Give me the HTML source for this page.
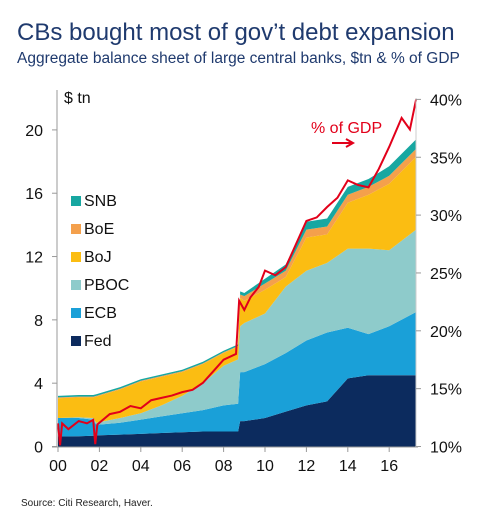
<!DOCTYPE html>
<html><head><meta charset="utf-8"><style>
body{margin:0;background:#fff;width:500px;height:524px;overflow:hidden;font-family:"Liberation Sans",Arial,sans-serif}
</style></head><body>
<svg width="500" height="524">
<text x="17" y="40" font-size="24" fill="#1f3a6e">CBs bought most of gov’t debt expansion</text>
<text x="17" y="63" font-size="15.5" fill="#1f3a6e">Aggregate balance sheet of large central banks, $tn &amp; % of GDP</text>
<g id="areas"></g>
<g id="axes"></g>
<text x="64" y="103" font-size="16" fill="#111">$ tn</text>
<text x="311" y="133" font-size="16" fill="#e2001a">% of GDP</text>
<path d="M332 143 H352 M346 139 L353 143 L346 147" stroke="#e2001a" stroke-width="2" fill="none"/>
<g id="legend"></g>
<text x="21" y="506" font-size="10" fill="#222">Source: Citi Research, Haver.</text>
</svg>
<script>
const dates=[2000,2001,2001.7,2001.85,2003,2004,2005,2006,2007,2008,2008.7,2008.8,2009,2010,2011,2012,2013,2014,2015,2016,2017.3];
const fed=[0.63,0.65,0.68,0.7,0.75,0.8,0.85,0.9,0.95,0.95,0.95,1.6,1.6,1.8,2.2,2.6,2.85,4.3,4.5,4.5,4.5];
const ecb=[1.17,1.15,1.02,0.67,0.75,0.9,1.05,1.2,1.35,1.65,1.75,3.1,3.1,3.4,3.7,4.1,4.35,3.2,2.6,3.1,4.0];
const pboc=[0,0.05,0.1,0.13,0.3,0.4,0.7,1.1,1.7,2.5,2.8,2.9,3.1,3.2,4.2,4.4,4.4,5.0,5.4,4.8,5.2];
const boj=[1.25,1.25,1.3,1.65,1.8,2.0,1.8,1.5,1.2,0.8,0.8,1.8,1.4,1.5,0.6,2.1,1.8,2.9,3.4,4.2,4.6];
const boe=[0.05,0.05,0.05,0.05,0.05,0.05,0.05,0.05,0.05,0.05,0.05,0.2,0.3,0.4,0.4,0.5,0.5,0.5,0.5,0.5,0.5];
const snb=[0.1,0.1,0.1,0.1,0.1,0.1,0.1,0.1,0.1,0.1,0.1,0.2,0.2,0.3,0.4,0.5,0.5,0.5,0.5,0.6,0.6];
const gdpDates=[2000,2000.1,2000.2,2000.5,2001,2001.4,2001.7,2001.8,2001.9,2002.5,2003,2003.5,2004,2004.5,2005,2005.5,2006,2006.5,2007,2007.5,2008,2008.6,2008.75,2009,2009.3,2009.7,2010,2010.5,2011,2011.5,2012,2012.5,2013,2013.5,2014,2014.5,2015,2015.5,2016,2016.6,2017,2017.3];
const gdpPct=[12,10.1,12,11.5,12.2,12,12.3,10.2,11.9,12.8,13,13.5,13.3,14,14.2,14.4,14.7,14.9,15.5,16.5,17.5,18,22.6,21.8,22.9,23.8,25.2,24.8,25.5,27.5,29.5,29.8,30.7,31.5,33,32.6,32.4,34,35.9,38.4,37.4,40];
const leftTicks=[0,4,8,12,16,20];
const rightTicks=[10,15,20,25,30,35,40];
const xTicks=[2000,2002,2004,2006,2008,2010,2012,2014,2016];
const series=[["Fed",fed,"#0c2b5e"],["ECB",ecb,"#1aa0d8"],["PBOC",pboc,"#8ecbcb"],["BoJ",boj,"#fbbd12"],["BoE",boe,"#f4a04c"],["SNB",snb,"#17a7a1"]];
const NS="http://www.w3.org/2000/svg";
const X=d=>58+(d-2000)*20.7;
const Y=v=>446.5-v*15.83;
const YR=p=>446.5-(p-10)*11.57;
function mk(t,a,p){const e=document.createElementNS(NS,t);for(const k in a)e.setAttribute(k,a[k]);p.appendChild(e);return e;}
const areas=document.getElementById('areas');
let base=dates.map(()=>0);
series.forEach(([name,vals,col])=>{
  const top=base.map((b,i)=>b+vals[i]);
  let d="M"+dates.map((t,i)=>X(t)+","+Y(top[i])).join(" L");
  for(let i=dates.length-1;i>=0;i--)d+=" L"+X(dates[i])+","+Y(base[i]);
  const p=mk('path',{d:d+"Z",fill:col},areas);
  
  
  base=top;
});
const line=mk('path',{d:"M"+gdpDates.map((t,i)=>X(t)+","+YR(gdpPct[i])).join(" L"),fill:"none",stroke:"#e2001a","stroke-width":2},areas);


const ax=document.getElementById('axes');
mk('line',{x1:57,y1:90,x2:57,y2:447,stroke:"#999"},ax);
mk('line',{x1:52,y1:447,x2:418,y2:447,stroke:"#999"},ax);
mk('line',{x1:416,y1:98,x2:416,y2:447,stroke:"#ccc"},ax);
leftTicks.forEach(v=>{mk('line',{x1:52,y1:Y(v),x2:57,y2:Y(v),stroke:"#999"},ax);
  const t=mk('text',{x:43,y:Y(v)+6,"text-anchor":"end","font-size":16,fill:"#111"},ax);t.textContent=v;
  
  });
rightTicks.forEach(v=>{mk('line',{x1:416,y1:YR(v),x2:421,y2:YR(v),stroke:"#999"},ax);
  const t=mk('text',{x:430,y:YR(v)+6,"font-size":16,fill:"#111"},ax);t.textContent=v+"%";
  
  });
xTicks.forEach(v=>{mk('line',{x1:X(v),y1:447,x2:X(v),y2:452,stroke:"#999"},ax);
  const t=mk('text',{x:X(v),y:471,"text-anchor":"middle","font-size":16,fill:"#111"},ax);t.textContent=String(v%100).padStart(2,"0");
  
  });
const lg=document.getElementById('legend');
series.slice().reverse().forEach(([name,vals,col],i)=>{
  const y=205+i*28;
  const r=mk('rect',{x:71,y:y-9,width:10,height:10,fill:col},lg);
  
  
  const t=mk('text',{x:84,y:y+1,"font-size":16,fill:"#111"},lg);t.textContent=name;
  
  
});
</script>
</body></html>
